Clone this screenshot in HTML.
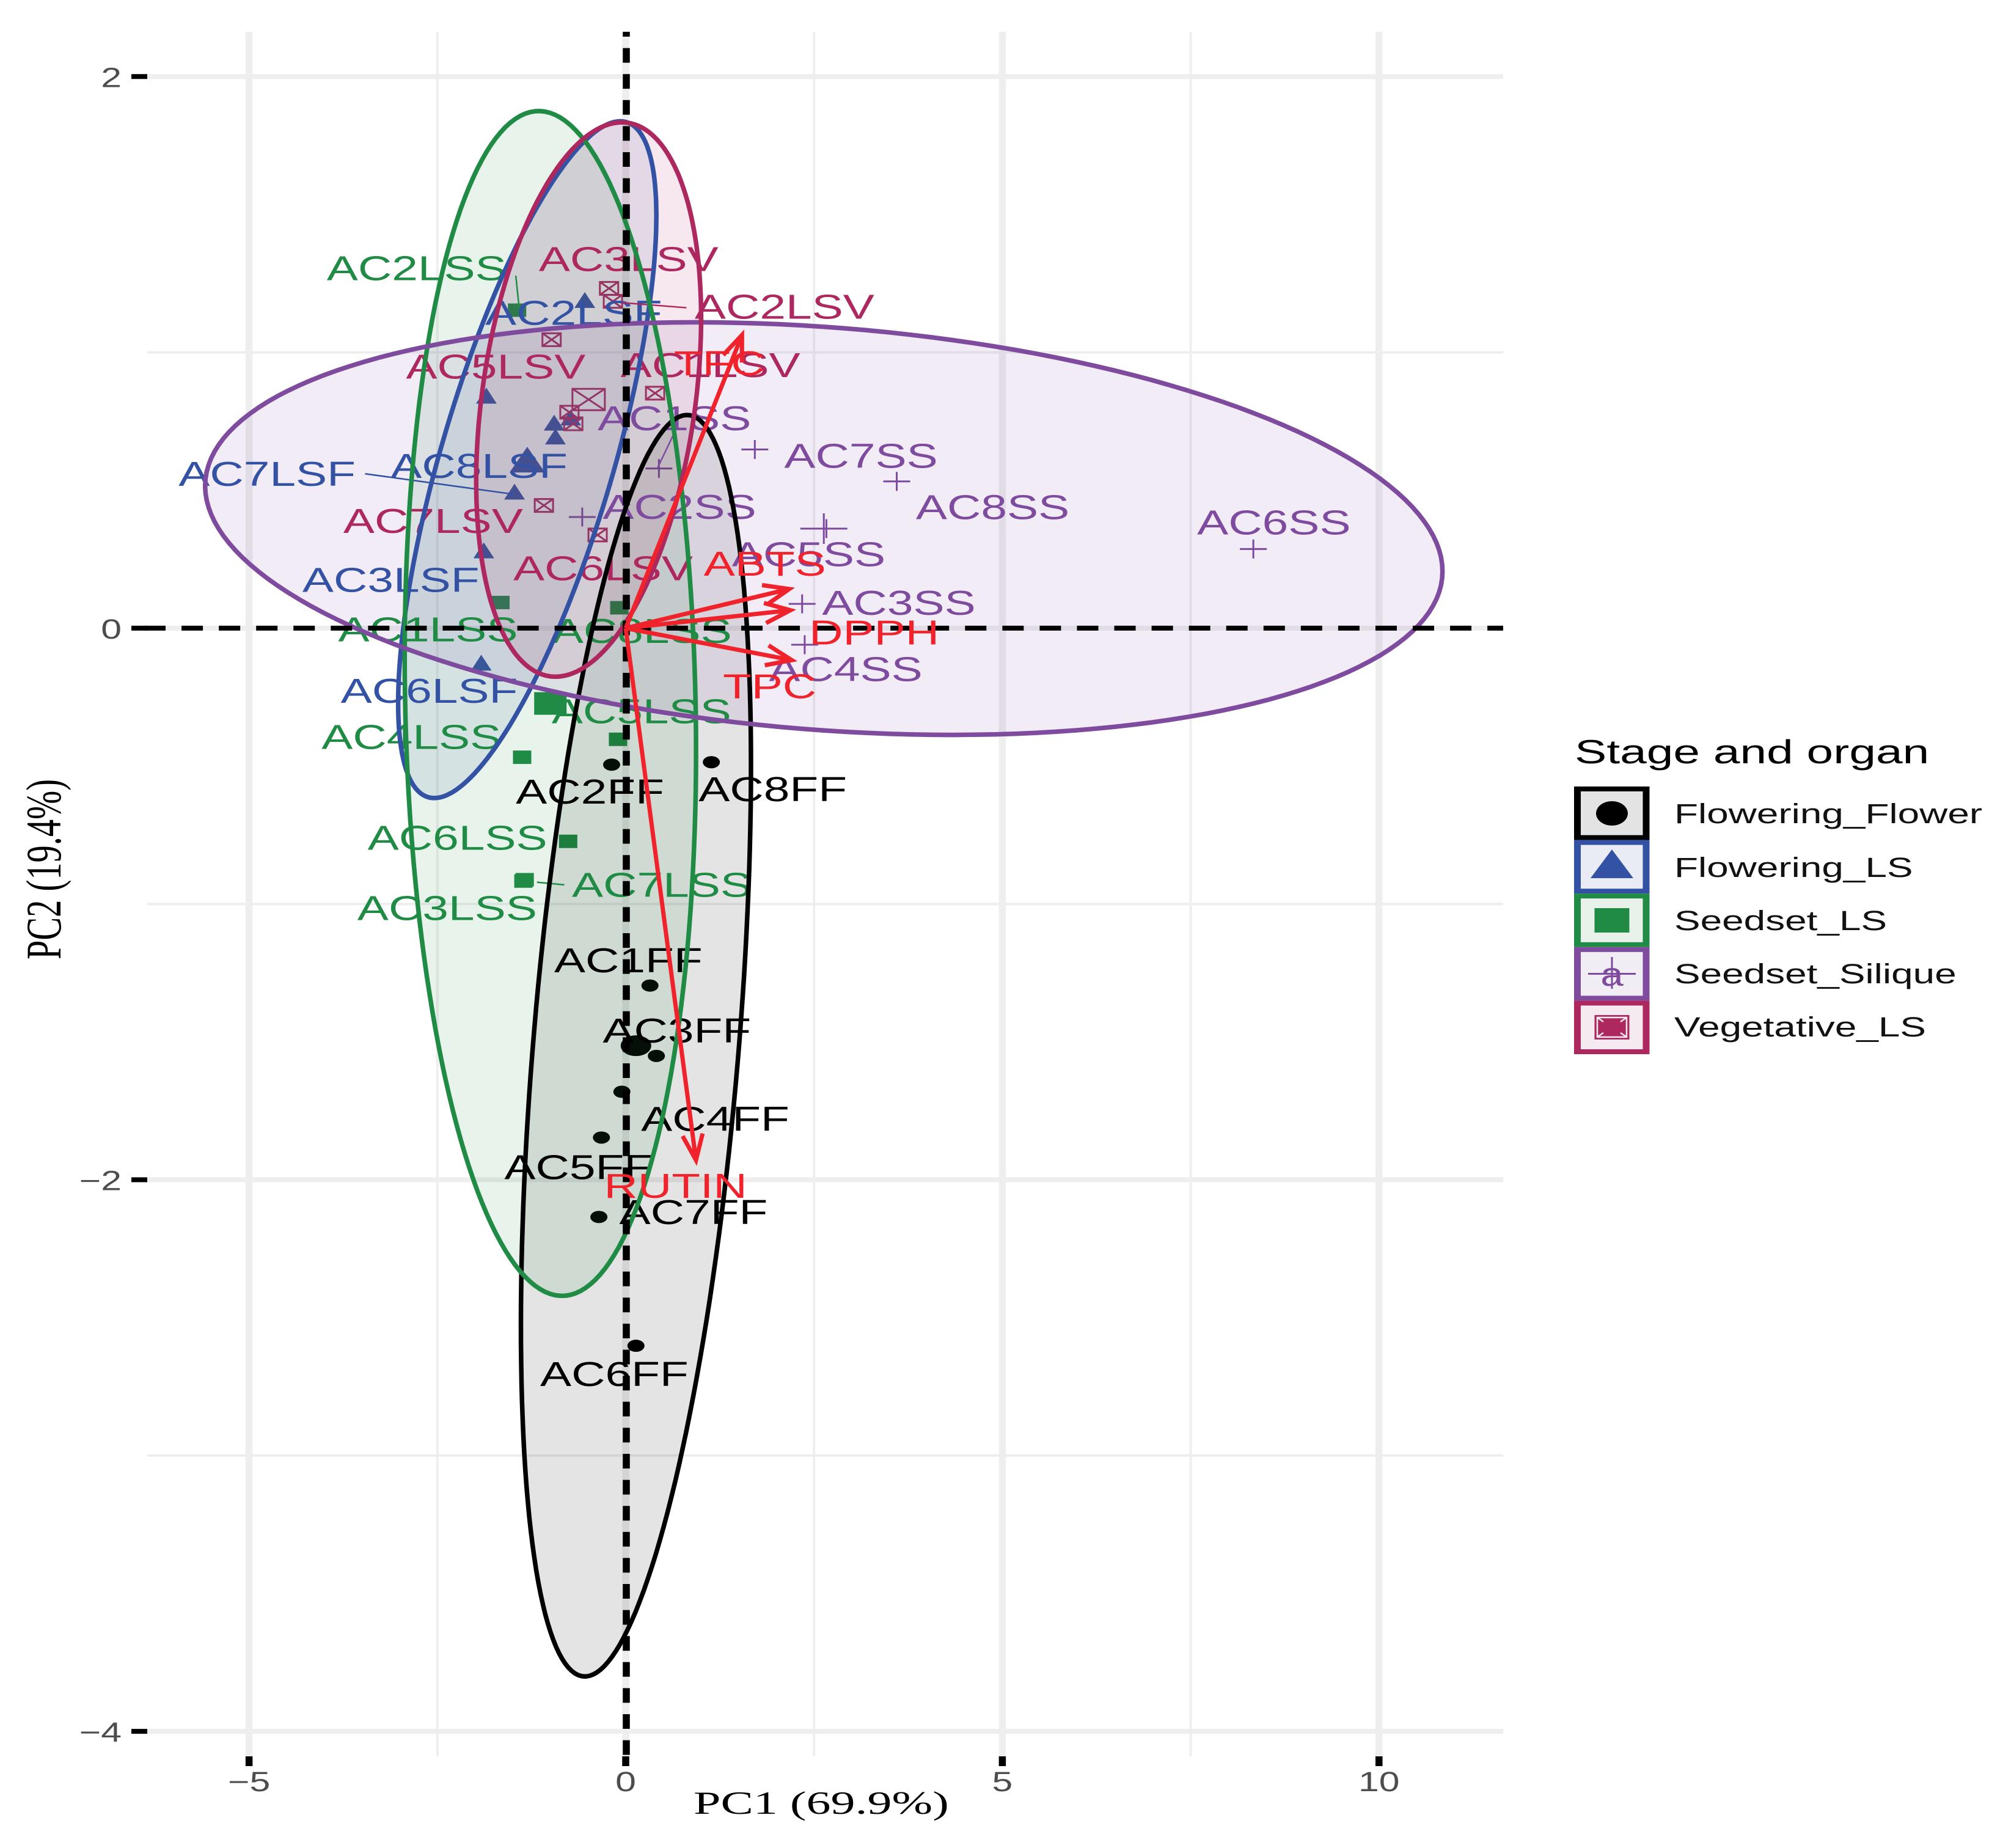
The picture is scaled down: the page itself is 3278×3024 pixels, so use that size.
<!DOCTYPE html>
<html lang="en">
<head>
<meta charset="utf-8">
<title>PCA biplot by stage and organ</title>
<style>
html,body{margin:0;padding:0;background:#fff;}
svg{display:block;}
text{font-family:"Liberation Sans",sans-serif;}
.serif{font-family:"Liberation Serif",serif;}
</style>
</head>
<body>
<svg id="chart" xmlns="http://www.w3.org/2000/svg" width="3278" height="3024" viewBox="0 0 3278 3024">
  <rect x="0" y="0" width="3278" height="3024" fill="#fff"/>
  <g id="grid-layer"></g>
  <g id="point-layer"></g>
  <g id="ellipse-fill-layer"></g>
  <g id="label-layer"></g>
  <g id="ellipse-layer"></g>
  <g id="reference-layer"></g>
  <g id="tick-layer"></g>
  <g id="arrow-layer"></g>

  <text class="serif" transform="translate(1135,2968) scale(1.51,1)" font-size="53" fill="#000">PC1 (69.9%)</text>
  <text class="serif" transform="translate(99,1422.5) rotate(-90) scale(1,1.45)" font-size="56.5" text-anchor="middle" fill="#000">PC2 (19.4%)</text>

  <g>
    <text transform="translate(2577,1249) scale(1.44,1)" font-size="54.5" fill="#000">Stage and organ</text>

    <g>
      <rect x="2576" y="1287" width="123.5" height="87.6" fill="#000"/>
      <rect x="2587" y="1295" width="101.5" height="71.6" fill="#e3e3e3"/>
      <ellipse cx="2638" cy="1331" rx="26" ry="20" fill="#000"/>
      <text transform="translate(2740,1347) scale(1.42,1)" font-size="45" fill="#111">Flowering_Flower</text>
    </g>
    <g>
      <rect x="2576" y="1374.6" width="123.5" height="87.6" fill="#3452a4"/>
      <rect x="2587" y="1382.6" width="101.5" height="71.6" fill="#e9ecf5"/>
      <path d="M2638 1390 L2673 1437 L2603 1437 Z" fill="#3452a4"/>
      <text transform="translate(2740,1435) scale(1.42,1)" font-size="45" fill="#111">Flowering_LS</text>
    </g>
    <g>
      <rect x="2576" y="1462.2" width="123.5" height="87.6" fill="#208b45"/>
      <rect x="2587" y="1470.2" width="101.5" height="71.6" fill="#e8f2eb"/>
      <rect x="2609.5" y="1486" width="57" height="40" fill="#208b45"/>
      <text transform="translate(2740,1522) scale(1.42,1)" font-size="45" fill="#111">Seedset_LS</text>
    </g>
    <g>
      <rect x="2576" y="1549.8" width="123.5" height="87.6" fill="#7e4b9e"/>
      <rect x="2587" y="1557.8" width="101.5" height="71.6" fill="#f1edf5"/>
      <path d="M2599 1593.5 H2677 M2638 1566 V1618" stroke="#7e4b9e" stroke-width="3" fill="none"/>
      <text transform="translate(2638,1613) scale(1.25,1)" font-size="54" text-anchor="middle" fill="#7e4b9e">a</text>
      <text transform="translate(2740,1609) scale(1.42,1)" font-size="45" fill="#111">Seedset_Silique</text>
    </g>
    <g>
      <rect x="2576" y="1637.4" width="123.5" height="87.6" fill="#ae2860"/>
      <rect x="2587" y="1645.4" width="101.5" height="71.6" fill="#f5eaf0"/>
      <rect x="2609.5" y="1661" width="57" height="40" fill="#ae2860"/>
      <path d="M2614 1665 H2662 V1697 H2614 Z M2614 1665 L2624 1672 M2662 1665 L2652 1672 M2614 1697 L2624 1690 M2662 1697 L2652 1690" fill="none" stroke="#f5eaf0" stroke-width="2.5"/>
      <text transform="translate(2740,1696) scale(1.42,1)" font-size="45" fill="#111">Vegetative_LS</text>
    </g>
  </g>
</svg>

<script>
/* ---- chart data (PC scores) ---- */
const flowerNames = ["AC1FF","AC2FF","AC3FF","AC4FF","AC5FF","AC6FF","AC7FF","AC8FF"];
const flowerPC1 = [0.322,-0.187,0.407,-0.051,-0.322,0.136,-0.356,1.137];
const flowerPC2 = [-1.296,-0.495,-1.551,-1.681,-1.847,-2.602,-2.135,-0.486];

const floweringLsNames = ["AC1LSF","AC2LSF","AC3LSF","AC4LSF","AC5LSF","AC6LSF","AC7LSF","AC8LSF"];
const floweringLsPC1 = [-0.950,-0.543,-1.884,-0.730,-1.850,-1.918,-1.476,-0.933];
const floweringLsPC2 = [0.745,1.190,0.282,0.764,0.843,-0.125,0.495,0.695];

const seedsetLsNames = ["AC1LSS","AC2LSS","AC3LSS","AC4LSS","AC5LSS","AC6LSS","AC7LSS","AC8LSS"];
const seedsetLsPC1 = [-1.663,-1.442,-1.358,-1.375,-0.102,-0.764,-1.341,-0.085];
const seedsetLsPC2 = [0.093,1.153,-0.917,-0.468,-0.403,-0.773,-0.912,0.074];

const siliqueNames = ["AC1SS","AC2SS","AC3SS","AC4SS","AC5SS","AC6SS","AC7SS","AC8SS"];
const siliquePC1 = [0.441,-0.577,2.342,2.376,2.664,8.332,1.714,3.598];
const siliquePC2 = [0.579,0.403,0.088,-0.060,0.361,0.287,0.648,0.532];

const vegetativeNames = ["AC1LSV","AC2LSV","AC3LSV","AC4LSV","AC5LSV","AC6LSV","AC7LSV","AC8LSV"];
const vegetativePC1 = [0.390,-0.170,-0.221,-0.747,-0.984,-0.373,-1.086,-0.696];
const vegetativePC2 = [0.852,1.185,1.232,0.783,1.046,0.338,0.445,0.741];

/* group summaries: order flower, flowering LS, seedset LS, silique, vegetative */
const centroidPC1 = [0.136,-1.307,-1.000,2.630,-0.492];
const centroidPC2 = [-1.514,0.611,-0.273,0.361,0.829];
const ellipseHalfWidth = [1.527,1.714,1.934,8.213,1.493];
const ellipseHalfHeight = [2.287,1.227,2.148,0.748,1.005];
const ellipseCorrelation = [0.444,0.72,-0.08,-0.207,0.295];

/* variable loadings */
const variableNames = ["TFC","ABTS","DPPH","TPC","RUTIN"];
const variablePC1 = [1.544,2.171,2.187,2.205,0.933];
const variablePC2 = [1.063,0.142,0.065,-0.116,-1.929];

/* axis ticks */
const xMajorTicks = [-5,0,5,10];
const xMinorTicks = [-2.5,2.5,7.5];
const yMajorTicks = [2,0,-2,-4];
const yMinorTicks = [1,-1,-3];
const xTickLabels = ["\u22125","0","5","10"];
const yTickLabels = ["2","0","\u22122","\u22124"];

/* ---- layout ---- */
const labelOffsets = {
  AC1FF:[-75,-11],AC2FF:[-75,30],AC3FF:[-42,-11],AC4FF:[15,30],AC5FF:[-76,32],AC6FF:[-75,31],AC7FF:[16,5],AC8FF:[-10,30],
  AC2LSF:[-78,19],AC3LSF:[-142,32],AC6LSF:[-110,31],AC7LSF:[-263,-5],AC8LSF:[-129,32],
  AC1LSS:[-127,30],AC2LSS:[-149,-24],AC3LSS:[-130,30],AC4LSS:[-157,-7],AC5LSS:[-52,-13],AC6LSS:[-157,6],AC7LSS:[37,13],AC8LSS:[-52.5,27],
  AC1SS:[-48,-30.5],AC2SS:[16,1],AC3SS:[15.6,8],AC4SS:[-28,28],AC5SS:[-74,29],AC6SS:[-44,-12],AC7SS:[23,14],AC8SS:[15,29],
  AC1LSV:[-27,-13],AC2LSV:[64,13],AC3LSV:[-55,-14],AC5LSV:[-114,30],AC6LSV:[-66,35],AC7LSV:[-157,21]
};
const connectorOffsets = {
  AC2LSS:[-1,-27,1.6,-2],AC2LSV:[7,1,57.6,5],AC7LSF:[-117,-14,-1,2],AC7LSS:[9.6,2,31,4],AC1SS:[11.6,-27,-1.3,0]
};
const variableLabelOffsets = {TFC:[-53.4,31],ABTS:[-67,-11],DPPH:[14.6,26.3],TPC:[-54,29.4],RUTIN:[-72,29]};

const NS = "http://www.w3.org/2000/svg";
const K = 2.0906;
const RED = "#f0222c";
const LABEL_SIZE = 57, LABEL_STRETCH = 1.345;

function xScale(v){ return 1024 + 123.28 * v; }
function yScale(v){ return 1027.9 - 451.3 * v; }

function make(tag, parent, attrs){
  const el = document.createElementNS(NS, tag);
  for (const k in attrs) el.setAttribute(k, attrs[k]);
  parent.appendChild(el);
  return el;
}
function drawText(parent, str, x, y, size, sx, fill, anchor){
  const el = make("text", parent, {
    transform: "translate(" + x + "," + y + ") scale(" + sx + ",1)",
    "font-size": size, fill: fill, "text-anchor": anchor || "start"
  });
  el.textContent = str;
  return el;
}

const gridLayer = document.getElementById("grid-layer");
const pointLayer = document.getElementById("point-layer");
const ellipseFillLayer = document.getElementById("ellipse-fill-layer");
const labelLayer = document.getElementById("label-layer");
const ellipseLayer = document.getElementById("ellipse-layer");
const referenceLayer = document.getElementById("reference-layer");
const tickLayer = document.getElementById("tick-layer");
const arrowLayer = document.getElementById("arrow-layer");

/* ---- grid ---- */
xMinorTicks.forEach(function(t){
  const el = make("line", gridLayer, {x1:xScale(t),x2:xScale(t),y1:52,y2:2874,stroke:"#eeeeee","stroke-width":4});
  
  
});
yMinorTicks.forEach(function(t){
  const el = make("line", gridLayer, {x1:241,x2:2460,y1:yScale(t),y2:yScale(t),stroke:"#eeeeee","stroke-width":4});
  
  
});
xMajorTicks.forEach(function(t){
  const el = make("line", gridLayer, {x1:xScale(t),x2:xScale(t),y1:52,y2:2874,stroke:"#eeeeee","stroke-width":11.5});
  
  
});
yMajorTicks.forEach(function(t){
  const el = make("line", gridLayer, {x1:241,x2:2460,y1:yScale(t),y2:yScale(t),stroke:"#eeeeee","stroke-width":8});
  
  
});

/* ---- axis ticks and tick labels ---- */
xMajorTicks.forEach(function(t, i){
  const tick = make("line", tickLayer, {x1:xScale(t),x2:xScale(t),y1:2874,y2:2890,stroke:"#000","stroke-width":11.5});
  
  
  const lab = drawText(tickLayer, xTickLabels[i], xScale(t), 2931, 45, 1.35, "#4d4d4d", "middle");
  
  
});
yMajorTicks.forEach(function(t, i){
  const tick = make("line", tickLayer, {x1:215,x2:241,y1:yScale(t),y2:yScale(t),stroke:"#000","stroke-width":8});
  
  
  const lab = drawText(tickLayer, yTickLabels[i], 199, yScale(t) + 17, 45, 1.35, "#4d4d4d", "end");
  
  
});

/* ---- markers ---- */
function drawCircle(x, y, big){
  const rx = big ? 25 : 14, ry = big ? 17 : 10;
  return make("ellipse", pointLayer, {cx:x,cy:y,rx:rx,ry:ry,fill:"#000"});
}
function drawTriangle(x, y, big){
  const w = big ? 29 : 17, h = big ? 21 : 13;
  return make("path", pointLayer, {d:"M"+x+" "+(y-h)+" L"+(x+w)+" "+(y+h)+" L"+(x-w)+" "+(y+h)+" Z",fill:"#3452a4"});
}
function drawSquare(x, y, big){
  const w = big ? 26.5 : 15, h = big ? 18.5 : 11;
  return make("rect", pointLayer, {x:x-w,y:y-h,width:2*w,height:2*h,fill:"#208b45"});
}
function drawPlus(x, y, big){
  const w = big ? 38.5 : 22, h = big ? 25 : 15.5;
  return make("path", pointLayer, {d:"M"+(x-w)+" "+y+" H"+(x+w)+" M"+x+" "+(y-h)+" V"+(y+h),fill:"none",stroke:"#7e4b9e","stroke-width":3});
}
function drawBoxCross(x, y, big){
  const w = big ? 26.5 : 15, h = big ? 17.5 : 10.5;
  return make("path", pointLayer, {
    d:"M"+(x-w)+" "+(y-h)+" H"+(x+w)+" V"+(y+h)+" H"+(x-w)+" Z M"+(x-w)+" "+(y-h)+" L"+(x+w)+" "+(y+h)+" M"+(x+w)+" "+(y-h)+" L"+(x-w)+" "+(y+h),
    fill:"none",stroke:"#ae2860","stroke-width":3
  });
}

/* ---- one series: points, centroid, labels, connectors ---- */
function drawSeries(seriesKey, names, pc1, pc2, groupIndex, marker, color){
  names.forEach(function(name, i){
    const px = xScale(pc1[i]), py = yScale(pc2[i]);
    const mark = marker(px, py, false);
    
    

    const off = labelOffsets[name];
    if (off) {
      const lab = drawText(labelLayer, name, px + off[0]*K, py + off[1]*K + 1, LABEL_SIZE, LABEL_STRETCH, color);
      
      
    }
    const con = connectorOffsets[name];
    if (con) {
      const seg = make("line", labelLayer, {x1:px+con[0]*K,y1:py+con[1]*K,x2:px+con[2]*K,y2:py+con[3]*K,stroke:color,"stroke-width":2.5});
      
      
    }
  });
  const c = marker(xScale(centroidPC1[groupIndex]), yScale(centroidPC2[groupIndex]), true);
  
  
}

drawSeries("flowering-flower", flowerNames, flowerPC1, flowerPC2, 0, drawCircle, "#000000");
drawSeries("flowering-ls", floweringLsNames, floweringLsPC1, floweringLsPC2, 1, drawTriangle, "#3452a4");
drawSeries("seedset-ls", seedsetLsNames, seedsetLsPC1, seedsetLsPC2, 2, drawSquare, "#208b45");
drawSeries("seedset-silique", siliqueNames, siliquePC1, siliquePC2, 3, drawPlus, "#7e4b9e");
drawSeries("vegetative-ls", vegetativeNames, vegetativePC1, vegetativePC2, 4, drawBoxCross, "#ae2860");

/* ---- ellipses ---- */
function ellipsePath(i){
  const phi = Math.acos(ellipseCorrelation[i]);
  const parts = [];
  for (let s = 0; s < 180; s++) {
    const t = s / 180 * 2 * Math.PI;
    const vx = centroidPC1[i] + ellipseHalfWidth[i] * Math.cos(t);
    const vy = centroidPC2[i] + ellipseHalfHeight[i] * Math.cos(t - phi);
    parts.push((s ? "L" : "M") + xScale(vx).toFixed(1) + " " + yScale(vy).toFixed(1));
  }
  return parts.join(" ") + " Z";
}
const ellipseColors = ["#000000","#3452a4","#208b45","#7e4b9e","#ae2860"];
const ellipseKeys = ["flowering-flower","flowering-ls","seedset-ls","seedset-silique","vegetative-ls"];
ellipseColors.forEach(function(col, i){
  const area = make("path", ellipseFillLayer, {d:ellipsePath(i),fill:col,"fill-opacity":0.105,stroke:"none"});
  
  
  const el = make("path", ellipseLayer, {d:ellipsePath(i),fill:"none",stroke:col,"stroke-width":7.5});
  
  
});

/* ---- dashed reference lines at zero ---- */
const hRef = make("line", referenceLayer, {x1:236,x2:2460,y1:yScale(0),y2:yScale(0),stroke:"#000","stroke-width":8,"stroke-dasharray":"35 26.06"});


const vRef = make("line", referenceLayer, {x1:xScale(0)+1,x2:xScale(0)+1,y1:52,y2:2888,stroke:"#000","stroke-width":11.5,"stroke-dasharray":"24 18.6","stroke-dashoffset":16});



/* ---- variable arrows ---- */
variableNames.forEach(function(name, i){
  const x0 = xScale(0), y0 = yScale(0);
  const x1 = xScale(variablePC1[i]), y1 = yScale(variablePC2[i]);
  const back = Math.atan2(y0 - y1, x0 - x1);
  const len = 45, spread = 21.5 * Math.PI / 180;
  const ax = x1 + len * Math.cos(back + spread), ay = y1 + len * Math.sin(back + spread);
  const bx = x1 + len * Math.cos(back - spread), by = y1 + len * Math.sin(back - spread);
  const arrow = make("path", arrowLayer, {
    d:"M"+x0+" "+y0+" L"+x1+" "+y1+" M"+ax+" "+ay+" L"+x1+" "+y1+" L"+bx+" "+by,
    fill:"none",stroke:RED,"stroke-width":7
  });
  
  
  const off = variableLabelOffsets[name];
  const lab = drawText(arrowLayer, name, x1 + off[0]*K, y1 + off[1]*K + 1, LABEL_SIZE, LABEL_STRETCH, RED);
  
  
});
</script>
</body>
</html>
